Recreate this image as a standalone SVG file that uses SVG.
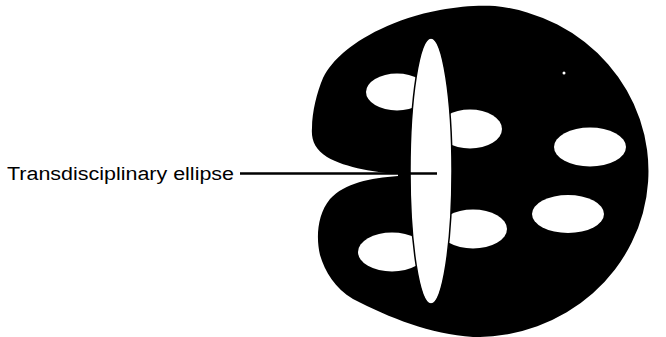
<svg xmlns="http://www.w3.org/2000/svg" width="666" height="337" viewBox="0 0 666 337">
<style>
.hole{fill:#fff;stroke:none}
.label{font-family:"Liberation Sans","DejaVu Sans",sans-serif;font-size:18px;fill:#000}
.lead{stroke:#000;stroke-width:2.5;fill:none}
</style>
<rect width="666" height="337" fill="#fff"/>
<g id="body">
<path d="M398,174 C380,173 345,168 327,157 C315,149 311,140 312,128 C312,112 317,92 323,78 C328,68 335,60 343,53 C360,38 395,18 440,10 C460,6 480,5 495,6 A172,166 0 0 1 473,337 C430,334 390,318 353,299 C335,288 325,272 320,255 C316,238 317,215 330,199 C345,183 370,178 398,176 Z" fill="#000"/>
<circle cx="564" cy="73" r="1.5" fill="#fff"/>
</g>
<g id="disciplines">
<ellipse id="d1" class="hole" cx="397" cy="92" rx="31" ry="18.5"/>
<ellipse id="d2" class="hole" cx="470" cy="129" rx="32" ry="19.5"/>
<ellipse id="d3" class="hole" cx="590" cy="147" rx="36" ry="19.5"/>
<ellipse id="d4" class="hole" cx="568" cy="214" rx="36" ry="19"/>
<ellipse id="d5" class="hole" cx="473" cy="229" rx="34" ry="19.5"/>
<ellipse id="d6" class="hole" cx="392" cy="252" rx="34" ry="19.5"/>
</g>
<g id="transdisciplinary-ellipse">
<ellipse cx="431" cy="171" rx="21" ry="133" fill="#fff" stroke="#000" stroke-width="1.5"/>
</g>
<g id="connectors">
<line class="lead" x1="240" y1="173.5" x2="437" y2="173.5"/>
</g>
<g id="label">
<text class="label" x="7" y="179.5" textLength="227" lengthAdjust="spacingAndGlyphs">Transdisciplinary ellipse</text>
</g>
</svg>
